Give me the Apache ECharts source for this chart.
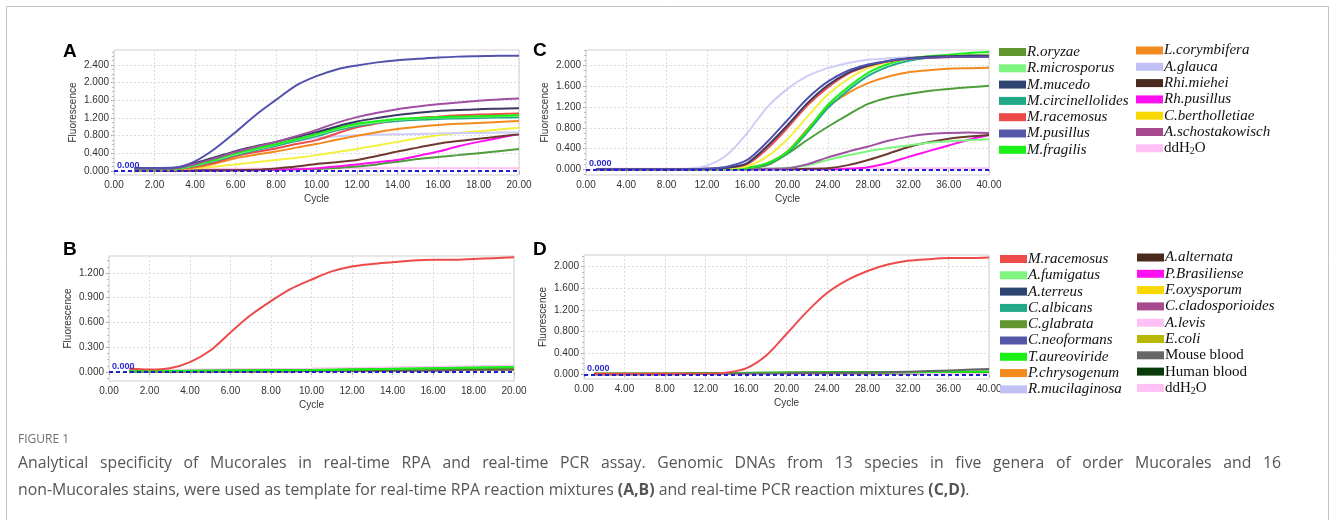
<!DOCTYPE html>
<html><head><meta charset="utf-8">
<script src="https://cdn.jsdelivr.net/npm/echarts@6/dist/echarts.min.js"></script>
<style>html,body{margin:0;padding:0;background:#fff}#c{width:1330px;height:520px}</style>
</head><body><div id="c"></div>
<script>
// ---------- axes / ticks ----------
const xTicksRPA = [0,2,4,6,8,10,12,14,16,18,20];
const xTicksPCR = [0,4,8,12,16,20,24,28,32,36,40];
const yTicksA = [0,0.4,0.8,1.2,1.6,2.0,2.4];
const yTicksB = [0,0.3,0.6,0.9,1.2];
const yTicksC = [0,0.4,0.8,1.2,1.6,2.0];
const yTicksD = [0,0.4,0.8,1.2,1.6,2.0];

// ---------- panel A (real-time RPA, Mucorales) ----------
const cyclesA = [1,2,3,4,5,6,7,8,9,10,11,12,13,14,15,16,17,18,19,20];
const A_Mpusillus   = [0.07,0.07,0.08,0.22,0.51,0.88,1.27,1.61,1.94,2.15,2.30,2.39,2.46,2.51,2.54,2.57,2.59,2.60,2.61,2.61];
const A_Aschost     = [0.05,0.05,0.06,0.16,0.29,0.43,0.55,0.66,0.79,0.93,1.09,1.22,1.32,1.40,1.46,1.51,1.55,1.59,1.62,1.64];
const A_Mmucedo     = [0.06,0.06,0.07,0.18,0.31,0.45,0.56,0.66,0.77,0.88,1.01,1.12,1.20,1.27,1.32,1.36,1.38,1.40,1.41,1.42];
const A_Mfragilis   = [0.04,0.04,0.05,0.14,0.26,0.40,0.51,0.61,0.72,0.84,0.97,1.07,1.13,1.18,1.20,1.22,1.23,1.24,1.25,1.26];
const A_Rmicro      = [0.04,0.04,0.05,0.13,0.25,0.38,0.49,0.60,0.71,0.82,0.95,1.05,1.11,1.16,1.19,1.21,1.22,1.23,1.24,1.25];
const A_Mcirc       = [0.04,0.04,0.05,0.12,0.23,0.36,0.47,0.57,0.68,0.79,0.92,1.02,1.09,1.13,1.16,1.18,1.19,1.20,1.21,1.22];
const A_Mracemosus  = [0.03,0.03,0.04,0.10,0.20,0.34,0.43,0.51,0.61,0.70,0.85,0.99,1.08,1.15,1.20,1.23,1.26,1.28,1.29,1.30];
const A_Lcory       = [0.03,0.03,0.04,0.08,0.17,0.29,0.37,0.44,0.53,0.61,0.71,0.80,0.88,0.95,1.00,1.04,1.07,1.09,1.11,1.13];
const A_Aglauca     = [0.03,0.03,0.04,0.09,0.18,0.32,0.46,0.58,0.68,0.75,0.79,0.81,0.82,0.83,0.84,0.85,0.86,0.86,0.87,0.87];
const A_Cberth      = [0.02,0.02,0.03,0.06,0.10,0.15,0.20,0.25,0.30,0.36,0.43,0.50,0.58,0.66,0.74,0.81,0.86,0.90,0.94,0.98];
const A_Rhimiehei   = [0.01,0.01,0.01,0.01,0.02,0.02,0.03,0.06,0.10,0.16,0.20,0.25,0.34,0.44,0.53,0.62,0.68,0.73,0.78,0.83];
const A_Rhpusillus  = [0.01,0.01,0.01,0.01,0.01,0.02,0.02,0.03,0.04,0.06,0.10,0.15,0.20,0.25,0.34,0.44,0.56,0.66,0.75,0.83];
const A_Roryzae     = [0.01,0.01,0.01,0.01,0.01,0.02,0.02,0.03,0.04,0.045,0.07,0.10,0.15,0.21,0.27,0.32,0.36,0.40,0.45,0.50];
const A_ddH2O       = [0.04,0.04,0.04,0.05,0.05,0.05,0.05,0.05,0.06,0.06,0.06,0.06,0.06,0.06,0.06,0.06,0.06,0.06,0.06,0.06];

// ---------- panel B (real-time RPA, non-Mucorales) ----------
const cyclesB = [1,2,3,4,5,6,7,8,9,10,11,12,13,14,15,16,17,18,19,20];
const B_Mracemosus = [0.04,0.03,0.045,0.12,0.26,0.48,0.69,0.86,1.01,1.12,1.22,1.28,1.31,1.33,1.35,1.36,1.36,1.37,1.38,1.39];
const cyclesBflat = [1,10,20];
const B_low    = [0.005,0.012,0.03];
const B_green  = [0.01,0.025,0.06];
const B_dgreen = [0.008,0.02,0.05];
const B_pink   = [0.02,0.04,0.075];

// ---------- panel C (real-time PCR, Mucorales) ----------
const cyclesC = [1,4,8,10,12,14,16,18,20,22,24,26,28,30,32,34,36,38,40];
const C_Aglauca    = [0,0,0,0.01,0.07,0.28,0.70,1.20,1.55,1.80,1.95,2.05,2.11,2.14,2.16,2.17,2.17,2.17,2.17];
const C_Mpusillus  = [0,0,0,0,0.01,0.05,0.18,0.53,0.95,1.37,1.69,1.90,2.02,2.09,2.13,2.15,2.17,2.17,2.17];
const C_Mmucedo    = [0,0,0,0,0.01,0.03,0.12,0.45,0.85,1.28,1.62,1.86,2.00,2.09,2.14,2.17,2.18,2.19,2.19];
const C_Mracemosus = [0,0,0,0,0.01,0.03,0.10,0.40,0.80,1.24,1.58,1.84,1.99,2.08,2.13,2.15,2.16,2.17,2.17];
const C_Cberth     = [0,0,0,0,0,0.02,0.06,0.25,0.58,1.02,1.44,1.74,1.95,2.07,2.13,2.16,2.18,2.19,2.20];
const C_Mfragilis  = [0,0,0,0,0,0.01,0.03,0.12,0.34,0.76,1.24,1.58,1.86,2.03,2.13,2.18,2.21,2.24,2.26];
const C_Mcirc      = [0,0,0,0,0,0.01,0.03,0.11,0.32,0.72,1.18,1.52,1.80,1.98,2.09,2.15,2.18,2.20,2.21];
const C_Lcory      = [0,0,0,0,0,0.01,0.03,0.12,0.35,0.78,1.20,1.47,1.66,1.79,1.87,1.91,1.94,1.95,1.96];
const C_Roryzae    = [0,0,0,0,0,0.01,0.02,0.08,0.30,0.57,0.82,1.05,1.26,1.38,1.45,1.51,1.55,1.58,1.61];
const C_Aschost    = [0,0,0,0,0,0,0,0.01,0.02,0.10,0.23,0.34,0.44,0.55,0.63,0.68,0.70,0.71,0.70];
const C_Rmicro     = [0,0,0,0,0,0,0,0.01,0.03,0.08,0.18,0.27,0.35,0.41,0.46,0.51,0.54,0.56,0.58];
const C_Rhimiehei  = [0,0,0,0,0,0,0,0,0,0.01,0.02,0.08,0.18,0.30,0.43,0.52,0.59,0.63,0.66];
const C_Rhpusillus = [0,0,0,0,0,0,0,0,0,0,0,0.01,0.04,0.12,0.24,0.35,0.46,0.57,0.66];
const C_ddH2O      = [0.01,0.01,0.01,0.01,0.01,0.01,0.01,0.01,0.01,0.01,0.02,0.02,0.02,0.02,0.02,0.02,0.02,0.02,0.02];

// ---------- panel D (real-time PCR, non-Mucorales) ----------
const cyclesD = [1,4,8,10,12,14,16,18,20,22,24,26,28,30,32,34,36,38,40];
const D_Mracemosus = [0.01,0.01,0.01,0.01,0.01,0.03,0.11,0.35,0.75,1.16,1.51,1.75,1.92,2.04,2.11,2.14,2.16,2.16,2.17];
const cyclesDflat = [1,10,20,30,40];
const D_low    = [0.0,0.005,0.01,0.02,0.03];
const D_green  = [0.01,0.015,0.03,0.04,0.05];
const D_grey   = [0.0,0.01,0.02,0.04,0.10];

// ---------- caption ----------
const captionHead = 'FIGURE 1';
const captionLine1 = 'Analytical specificity of Mucorales in real-time RPA and real-time PCR assay. Genomic DNAs from 13 species in five genera of order Mucorales and 16';
const captionLine2 = 'non-Mucorales stains, were used as template for real-time RPA reaction mixtures {b|(A,B)} and real-time PCR reaction mixtures {b|(C,D)}.';

// ---------- names / colours (legend swatch colours) ----------
const COL = {
  'R.oryzae':'#62962F','R.microsporus':'#7EF57E','M.mucedo':'#2E4470','M.circinellolides':'#20A887',
  'M.racemosus':'#EE4A4A','M.pusillus':'#5558A8','M.fragilis':'#18F018','L.corymbifera':'#F28A1E',
  'A.glauca':'#C0C0F5','Rhi.miehei':'#4A2A1E','Rh.pusillus':'#FF10F0','C.bertholletiae':'#F8D800',
  'A.schostakowisch':'#A8488F','ddH2O':'#FFC0F5',
  'A.fumigatus':'#7EF57E','A.terreus':'#2E4470','C.albicans':'#20A887','C.glabrata':'#62962F',
  'C.neoformans':'#5558A8','T.aureoviride':'#18F018','P.chrysogenum':'#F28A1E','R.mucilaginosa':'#C0C0F5',
  'A.alternata':'#4A2A1E','P.Brasiliense':'#FF10F0','F.oxysporum':'#F8D800','C.cladosporioides':'#A8488F',
  'A.levis':'#FFC0F5','E.coli':'#B8B800','Mouse blood':'#666666','Human blood':'#0A3A0A'
};
// curve colours where the plotted trace differs from the legend swatch
const LINE_COL = {
  'C.bertholletiae':'#F4F040','Rhi.miehei':'#6E3A30','R.oryzae':'#4E9E3E','A.glauca':'#CDCDF7',
  'M.mucedo':'#3A3A62','M.pusillus':'#5252AE','A.schostakowisch':'#A050A0'
};
const lineColor = n => LINE_COL[n] || COL[n];

const pairs = (xs, ys) => xs.map((x, i) => [x, ys[i]]);

const panelA = [
  ['ddH2O',cyclesA,A_ddH2O],['R.oryzae',cyclesA,A_Roryzae],['Rh.pusillus',cyclesA,A_Rhpusillus],
  ['Rhi.miehei',cyclesA,A_Rhimiehei],['C.bertholletiae',cyclesA,A_Cberth],['A.glauca',cyclesA,A_Aglauca],
  ['L.corymbifera',cyclesA,A_Lcory],['M.racemosus',cyclesA,A_Mracemosus],['M.circinellolides',cyclesA,A_Mcirc],
  ['R.microsporus',cyclesA,A_Rmicro],['M.fragilis',cyclesA,A_Mfragilis],['M.mucedo',cyclesA,A_Mmucedo],
  ['A.schostakowisch',cyclesA,A_Aschost],['M.pusillus',cyclesA,A_Mpusillus]
];
const panelB = [
  ['A.terreus',cyclesBflat,B_low],['C.albicans',cyclesBflat,B_low],['C.neoformans',cyclesBflat,B_low],
  ['P.chrysogenum',cyclesBflat,B_low],['R.mucilaginosa',cyclesBflat,B_low],['A.alternata',cyclesBflat,B_low],
  ['P.Brasiliense',cyclesBflat,B_low],['F.oxysporum',cyclesBflat,B_low],['C.cladosporioides',cyclesBflat,B_low],
  ['E.coli',cyclesBflat,B_low],['Mouse blood',cyclesBflat,B_low],['A.levis',cyclesBflat,B_pink],
  ['ddH2O',cyclesBflat,B_pink],['A.fumigatus',cyclesBflat,B_green],['Human blood',cyclesBflat,B_dgreen],
  ['C.glabrata',cyclesBflat,B_dgreen],['T.aureoviride',cyclesBflat,B_green],['M.racemosus',cyclesB,B_Mracemosus]
];
const panelC = [
  ['ddH2O',cyclesC,C_ddH2O],['Rh.pusillus',cyclesC,C_Rhpusillus],['Rhi.miehei',cyclesC,C_Rhimiehei],
  ['R.microsporus',cyclesC,C_Rmicro],['A.schostakowisch',cyclesC,C_Aschost],['R.oryzae',cyclesC,C_Roryzae],
  ['L.corymbifera',cyclesC,C_Lcory],['A.glauca',cyclesC,C_Aglauca],['M.circinellolides',cyclesC,C_Mcirc],
  ['M.fragilis',cyclesC,C_Mfragilis],['C.bertholletiae',cyclesC,C_Cberth],['M.racemosus',cyclesC,C_Mracemosus],
  ['M.mucedo',cyclesC,C_Mmucedo],['M.pusillus',cyclesC,C_Mpusillus]
];
const panelD = [
  ['A.terreus',cyclesDflat,D_low],['C.albicans',cyclesDflat,D_low],['C.neoformans',cyclesDflat,D_low],
  ['P.chrysogenum',cyclesDflat,D_low],['R.mucilaginosa',cyclesDflat,D_low],['A.alternata',cyclesDflat,D_low],
  ['P.Brasiliense',cyclesDflat,D_low],['F.oxysporum',cyclesDflat,D_low],['C.cladosporioides',cyclesDflat,D_low],
  ['E.coli',cyclesDflat,D_low],['A.levis',cyclesDflat,D_low],['ddH2O',cyclesDflat,D_low],
  ['A.fumigatus',cyclesDflat,D_green],['C.glabrata',cyclesDflat,D_green],['Human blood',cyclesDflat,D_green],
  ['T.aureoviride',cyclesDflat,D_green],['Mouse blood',cyclesDflat,D_grey],['M.racemosus',cyclesD,D_Mracemosus]
];

const legendCol1C = ['R.oryzae','R.microsporus','M.mucedo','M.circinellolides','M.racemosus','M.pusillus','M.fragilis'];
const legendCol2C = ['L.corymbifera','A.glauca','Rhi.miehei','Rh.pusillus','C.bertholletiae','A.schostakowisch','ddH2O'];
const legendCol1D = ['M.racemosus','A.fumigatus','A.terreus','C.albicans','C.glabrata','C.neoformans','T.aureoviride','P.chrysogenum','R.mucilaginosa'];
const legendCol2D = ['A.alternata','P.Brasiliense','F.oxysporum','C.cladosporioides','A.levis','E.coli','Mouse blood','Human blood','ddH2O'];
const uprightNames = ['ddH2O','Mouse blood','Human blood'];

// ---------- layout ----------
const grids = [
  {left:114, top:50,  width:405, height:125},
  {left:109, top:256, width:405, height:125},
  {left:586, top:50,  width:403, height:125},
  {left:584, top:255, width:405, height:124}
];
const panels = [
  {series:panelA, xmax:20, xt:xTicksRPA, yt:yTicksA, ymin:-0.09, ymax:2.74, yminorStep:0.1},
  {series:panelB, xmax:20, xt:xTicksRPA, yt:yTicksB, ymin:-0.109, ymax:1.406, yminorStep:0.075},
  {series:panelC, xmax:40, xt:xTicksPCR, yt:yTicksC, ymin:-0.11, ymax:2.30, yminorStep:0.1},
  {series:panelD, xmax:40, xt:xTicksPCR, yt:yTicksD, ymin:-0.087, ymax:2.218, yminorStep:0.1}
];

const AX_FONT = 'Liberation Sans';
const xAxes = [], yAxes = [], series = [];
panels.forEach((p, g) => {
  const xMinor = [];
  const xStep = p.xt[1] - p.xt[0];
  for (let v = 0; v <= p.xmax + 1e-9; v += xStep / (p.xmax === 20 ? 2 : 4)) xMinor.push(+v.toFixed(3));
  const yMinor = [];
  for (let v = 0; v <= p.ymax + 1e-9; v += p.yminorStep) yMinor.push(+v.toFixed(4));
  for (let v = -p.yminorStep; v >= p.ymin; v -= p.yminorStep) yMinor.push(+v.toFixed(4));
  xAxes.push({
    type:'value', gridIndex:g, min:0, max:p.xmax, position:'bottom',
    axisLine:{show:false},
    axisTick:{show:true, length:3, customValues:p.xt, lineStyle:{color:'#999'}},
    axisLabel:{customValues:p.xt, formatter:v=>v.toFixed(2), color:'#333', fontSize:10, fontFamily:AX_FONT, margin:5, showMinLabel:true, showMaxLabel:true},
    splitLine:{show:true, lineStyle:{color:'#dcdcdc', type:[2,2], width:1}},
    name:'Cycle', nameLocation:'middle', nameGap:19,
    nameTextStyle:{color:'#333', fontSize:10, fontFamily:AX_FONT}
  });
  xAxes.push({
    type:'value', gridIndex:g, min:0, max:p.xmax, position:'bottom',
    axisLine:{show:false}, axisLabel:{show:false}, splitLine:{show:false},
    axisTick:{show:true, length:2, customValues:xMinor, lineStyle:{color:'#bbb'}}
  });
  yAxes.push({
    type:'value', gridIndex:g, min:p.ymin, max:p.ymax, position:'left',
    axisLine:{show:false},
    axisTick:{show:true, length:3, customValues:p.yt, lineStyle:{color:'#999'}},
    axisLabel:{customValues:p.yt, formatter:v=>v.toFixed(3), color:'#333', fontSize:10, fontFamily:AX_FONT, margin:5},
    splitLine:{show:true, lineStyle:{color:'#dcdcdc', type:[2,2], width:1}},
    name:'Fluorescence', nameLocation:'middle', nameGap:36, nameRotate:90,
    nameTextStyle:{color:'#333', fontSize:10, fontFamily:AX_FONT}
  });
  yAxes.push({
    type:'value', gridIndex:g, min:p.ymin, max:p.ymax, position:'left',
    axisLine:{show:false}, axisLabel:{show:false}, splitLine:{show:false},
    axisTick:{show:true, length:2, customValues:yMinor, lineStyle:{color:'#bbb'}}
  });
  p.series.forEach((s, i) => {
    const lc = lineColor(s[0]);
    const obj = {
      type:'line', name:s[0], xAxisIndex:g*2, yAxisIndex:g*2,
      data:pairs(s[1], s[2]), showSymbol:false, smooth:0.3, silent:true,
      color:lc, lineStyle:{width:2, color:lc}, z:2
    };
    if (i === 0) {
      obj.markLine = {
        symbol:'none', silent:true, z:5,
        lineStyle:{color:'#1F1FCC', type:[4,3], width:2},
        label:{show:true, formatter:'0.000', position:'insideStartTop', color:'#2A2AD0', fontSize:9, fontWeight:'bold', fontFamily:AX_FONT, distance:[3,1]},
        data:[{yAxis:0}]
      };
    }
    series.push(obj);
  });
});

const legTextStyle = {
  fontFamily:'Liberation Serif', fontStyle:'italic', fontSize:15, color:'#111', lineHeight:16,
  padding:[0,0,0,-4],
  rich:{ s:{fontFamily:'Liberation Serif', fontSize:10, lineHeight:16, verticalAlign:'bottom', padding:[6,0,0,0], color:'#111'} }
};
function legend(names, left, top) {
  return {
    orient:'vertical', left:left, top:top, padding:0, itemGap:0.3,
    itemWidth:27, itemHeight:8, icon:'rect', selectedMode:false,
    textStyle:legTextStyle,
    formatter: n => n === 'ddH2O' ? 'ddH{s|2}O' : n,
    data: names.map(n => {
      const item = {name:n, itemStyle:{color:COL[n]}};
      if (uprightNames.includes(n)) item.textStyle = {fontStyle:'normal'};
      return item;
    })
  };
}

// ---------- caption layout (line 1 is justified to the text block width) ----------
const CAP_FAMILY = '"Open Sans"';
const CAP_SIZE = 15.8;
const CAP_LEFT = 18, CAP_RIGHT = 1281;
const measure = document.createElement('canvas').getContext('2d');
measure.font = CAP_SIZE + 'px ' + CAP_FAMILY;
const words1 = captionLine1.split(' ');
const wordW = words1.map(w => measure.measureText(w).width);
const gap = (CAP_RIGHT - CAP_LEFT - wordW.reduce((a, b) => a + b, 0)) / (words1.length - 1);
const captionGraphics = [];
let cx = CAP_LEFT;
words1.forEach((w, i) => {
  captionGraphics.push({type:'text', x:cx, y:455, style:{text:w, font:CAP_SIZE + 'px ' + CAP_FAMILY, fill:'#555'}, silent:true});
  cx += wordW[i] + gap;
});

const option = {
  animation:false,
  backgroundColor:'#fff',
  grid: grids.map(g => Object.assign({show:true, borderColor:'#cfcfcf', borderWidth:1, backgroundColor:'#fff', containLabel:false}, g)),
  xAxis:xAxes, yAxis:yAxes, series:series,
  legend:[
    legend(legendCol1C, 999, 44), legend(legendCol2C, 1136, 42.5),
    legend(legendCol1D, 1000, 251), legend(legendCol2D, 1137, 249.5)
  ],
  graphic:[
    {type:'rect', shape:{x:6.5, y:6.5, width:1322, height:530}, style:{fill:null, stroke:'#c4c4c4', lineWidth:1}, silent:true},
    {type:'text', left:63, top:42, style:{text:'A', font:'bold 19px "Liberation Sans"', fill:'#000'}},
    {type:'text', left:63, top:240, style:{text:'B', font:'bold 19px "Liberation Sans"', fill:'#000'}},
    {type:'text', left:533, top:41, style:{text:'C', font:'bold 19px "Liberation Sans"', fill:'#000'}},
    {type:'text', left:533, top:240, style:{text:'D', font:'bold 19px "Liberation Sans"', fill:'#000'}},
    {type:'text', left:18, top:434, style:{text:captionHead, font:'12px ' + CAP_FAMILY, fill:'#6f6f6f'}},
    ...captionGraphics,
    {type:'text', x:CAP_LEFT, y:482, style:{
      text:captionLine2, font:CAP_SIZE + 'px ' + CAP_FAMILY, fill:'#555',
      rich:{b:{fontFamily:CAP_FAMILY, fontSize:CAP_SIZE, fontWeight:'bold', fill:'#555', color:'#555'}}
    }, silent:true}
  ]
};
const chart = echarts.init(document.getElementById('c'), null, {renderer:'canvas'});
chart.setOption(option);
</script>
</body></html>
